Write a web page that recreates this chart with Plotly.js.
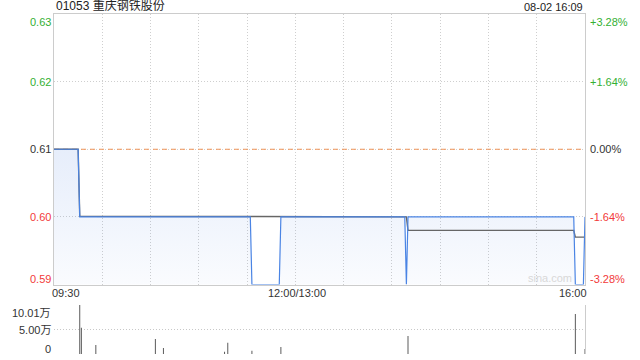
<!DOCTYPE html>
<html>
<head>
<meta charset="utf-8">
<script src="https://cdn.plot.ly/plotly-3.0.1.min.js"></script>
<style>
html,body{margin:0;padding:0;background:#fff;}
#chart{width:640px;height:360px;}
</style>
</head>
<body>
<div id="chart"></div>
<script>
// ---- data (minutes since 09:30, lunch break removed; 0..330) ----
const stockTitle = '01053 重庆钢铁股份';
const stampText = '08-02 16:09';
const prevClose = 0.61;

const priceT = [0, 15, 16, 122, 123, 140, 141, 218, 219, 220, 323, 324, 329, 330];
const priceV = [0.61, 0.61, 0.60, 0.60, 0.59, 0.59, 0.60, 0.60, 0.59, 0.60, 0.60, 0.59, 0.59, 0.60];

const avgT = [0, 15, 16, 219, 220, 323, 324, 330];
const avgV = [0.61, 0.61, 0.6001, 0.6, 0.598, 0.598, 0.597, 0.597];

const volT = [16, 17, 26, 63, 68, 106, 108, 123, 141, 220, 324, 330];
const volV = [100100, 53700, 18400, 30600, 12300, 4700, 23000, 6700, 14300, 36800, 81700, 10000];

const priceTicks = [0.63, 0.62, 0.61, 0.60, 0.59];
const priceTickText = ['0.63', '0.62', '0.61', '0.60', '0.59'];
const pctTickText = ['+3.28%', '+1.64%', '0.00%', '-1.64%', '-3.28%'];
const volTicks = [100100, 50000, 0];
const volTickText = ['10.01万', '5.00万', '0'];
const timeTicks = [0, 150, 330];
const timeTickText = ['09:30', '12:00/13:00', '16:00'];
const gridTimes = [0, 30, 60, 90, 120, 150, 180, 210, 240, 270, 300, 330];

// ---- styling ----
const FONT = 'Liberation Sans, Arial, Noto Sans CJK SC, sans-serif';
const GREEN = '#33b033', RED = '#f23a3a', DARK = '#333333';
function tickColor(v) { return v > prevClose + 1e-9 ? GREEN : (v < prevClose - 1e-9 ? RED : DARK); }

const xr = [0, 330];
const traces = [
  { // fill under price
    x: priceT, y: priceV, type: 'scatter', mode: 'lines',
    line: {width: 0, color: 'rgba(0,0,0,0)'},
    fill: 'tozeroy',
    fillgradient: {type: 'vertical', start: 0.59, stop: 0.61,
      colorscale: [[0, 'rgba(80,130,225,0.03)'], [1, 'rgba(80,130,225,0.14)']]},
    hoverinfo: 'skip', xaxis: 'x', yaxis: 'y'
  },
  { // prev close dashed line
    x: xr, y: [prevClose, prevClose], type: 'scatter', mode: 'lines',
    line: {width: 1, color: '#ef9458', dash: '5px,4px'},
    hoverinfo: 'skip', xaxis: 'x', yaxis: 'y'
  },
  { // average price
    x: avgT, y: avgV, type: 'scatter', mode: 'lines',
    line: {width: 1.4, color: '#666666'},
    hoverinfo: 'skip', xaxis: 'x', yaxis: 'y'
  },
  { // price
    x: priceT, y: priceV, type: 'scatter', mode: 'lines',
    line: {width: 1.2, color: '#4a84e4'},
    hoverinfo: 'skip', xaxis: 'x', yaxis: 'y'
  },
  { // volume
    x: volT, y: volV, type: 'bar', width: 0.6,
    marker: {color: '#555555', line: {width: 0}},
    hoverinfo: 'skip', xaxis: 'x2', yaxis: 'y2'
  }
];

const annotations = [];
// title and time stamp
annotations.push({text: stockTitle, xref: 'paper', yref: 'paper', x: 0, y: 1, xanchor: 'left', yanchor: 'bottom',
  yshift: -1, showarrow: false, font: {family: FONT, size: 12, color: '#222'}});
annotations.push({text: stampText, xref: 'paper', yref: 'paper', x: 1, y: 1, xanchor: 'right', yanchor: 'bottom',
  yshift: -1, showarrow: false, font: {family: FONT, size: 11, color: '#222'}});
// price axis labels
priceTicks.forEach((v, i) => {
  const last = i === priceTicks.length - 1;
  const ya = i === 0 ? 'top' : (last ? 'bottom' : 'middle');
  const ys = last ? -2 : 0;
  annotations.push({text: priceTickText[i], xref: 'paper', yref: 'y', x: 0, y: v, xanchor: 'right', yanchor: ya,
    xshift: -1, yshift: ys, showarrow: false, font: {family: FONT, size: 11, color: tickColor(v)}});
  annotations.push({text: pctTickText[i], xref: 'paper', yref: 'y', x: 1, y: v, xanchor: 'left', yanchor: ya,
    xshift: 3, yshift: ys, showarrow: false, font: {family: FONT, size: 11, color: tickColor(v)}});
});
// volume labels
volTicks.forEach((v, i) => {
  const last = i === volTicks.length - 1;
  const ya = i === 0 ? 'top' : (last ? 'bottom' : 'middle');
  annotations.push({text: volTickText[i], xref: 'paper', yref: 'y2', x: 0, y: v, xanchor: 'right', yanchor: ya,
    xshift: -1, yshift: last ? -3 : 0, showarrow: false, font: {family: FONT, size: 11, color: DARK}});
});
// time labels
timeTicks.forEach((t, i) => {
  const xa = i === 0 ? 'left' : (i === timeTicks.length - 1 ? 'right' : 'center');
  annotations.push({text: timeTickText[i], xref: 'x', yref: 'paper', x: t, y: 0.179, xanchor: xa, yanchor: 'middle',
    xshift: i === 0 ? -4 : (i === timeTicks.length - 1 ? 4 : 2), showarrow: false, font: {family: FONT, size: 11, color: DARK}});
});
// watermark
annotations.push({text: 'sina.com', xref: 'paper', yref: 'y', x: 1, y: 0.59, xanchor: 'right', yanchor: 'bottom',
  xshift: -11, yshift: -1, showarrow: false, font: {family: FONT, size: 11, color: '#d8d8d8'}});

const layout = {
  width: 640, height: 360,
  margin: {l: 54, r: 55, t: 14, b: 6, pad: 0},
  paper_bgcolor: '#fff', plot_bgcolor: '#fff',
  showlegend: false,
  xaxis: {domain: [0, 1], range: xr, tickvals: gridTimes, showticklabels: false, ticks: '',
    showgrid: true, gridcolor: '#cfcfcf', griddash: '1px,2px', gridwidth: 1,
    zeroline: false, showline: true, mirror: true, linecolor: '#cccccc', linewidth: 1, anchor: 'y', fixedrange: true},
  yaxis: {domain: [0.2044, 1], range: [0.59, 0.63], tickvals: [0.60, 0.61, 0.62], showticklabels: false, ticks: '',
    showgrid: true, gridcolor: '#cfcfcf', griddash: '1px,2px', gridwidth: 1,
    zeroline: false, showline: true, mirror: true, linecolor: '#cccccc', linewidth: 1, anchor: 'x', fixedrange: true},
  xaxis2: {domain: [0, 1], range: xr, showticklabels: false, ticks: '', showgrid: false, zeroline: false,
    showline: false, anchor: 'y2', fixedrange: true},
  yaxis2: {domain: [0, 0.144], range: [0, 100100], tickvals: volTicks, showticklabels: false, ticks: '',
    showgrid: true, gridcolor: '#c8c8c8', griddash: '1px,2px', gridwidth: 1,
    zeroline: false, showline: true, side: 'right', linecolor: '#cccccc', linewidth: 1, anchor: 'x2', fixedrange: true},
  annotations: annotations
};

Plotly.newPlot('chart', traces, layout, {staticPlot: true, displayModeBar: false});
</script>
</body>
</html>
